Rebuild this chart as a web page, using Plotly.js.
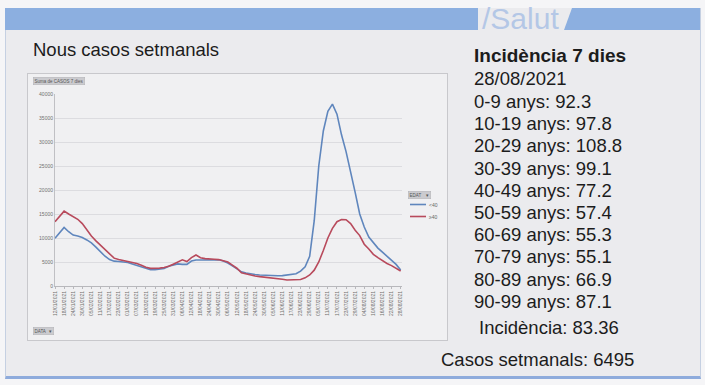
<!DOCTYPE html>
<html>
<head>
<meta charset="utf-8">
<script src="https://cdn.plot.ly/plotly-3.0.1.min.js"></script>
<style>
  html, body { margin:0; padding:0; background:#f5f5f7; width:705px; height:385px; overflow:hidden; }
  body { font-family: "Liberation Sans", Arial, sans-serif; color:#1c1c1c; position:relative; }
  #panel { position:absolute; left:5px; top:8px; width:694px; height:368px; background:#ebebee;
           border-left:1px solid #c5d0e2; border-right:1px solid #c5d0e2; border-bottom:3px solid #8eabdc; }
  #hdr { position:absolute; left:0; top:0; }
  .t { position:absolute; white-space:nowrap; font-size:18.5px; line-height:22px; }
  #chartbox { position:absolute; left:27px; top:73px; width:419px; height:266px; border:1px solid #c8c8cc; background:#f0f0f2; }
  #chart { width:419px; height:266px; }
</style>
</head>
<body>
<div id="panel"></div>
<svg id="hdr" width="705" height="40">
  <polygon points="5,8 478,8 478,30 5,30" fill="#8cafe0"/>
  <polygon points="572,8 700,8 700,30 564,30" fill="#8cafe0"/>
  <text x="482" y="29" font-family="Liberation Sans, Arial, sans-serif" font-size="30" fill="#b4c7e6">/Salut</text>
</svg>
<div class="t" style="left:33px;top:39px;">Nous casos setmanals</div>
<div id="chartbox"><div id="chart"></div></div>
<div id="side"></div>
<script>
// ---- Data (7-day sums of new cases) ----
const dates = [
 "12/01/2021","15/01/2021","18/01/2021","21/01/2021","24/01/2021","27/01/2021","30/01/2021",
 "02/02/2021","05/02/2021","08/02/2021","11/02/2021","14/02/2021","17/02/2021","20/02/2021","23/02/2021","26/02/2021",
 "01/03/2021","04/03/2021","07/03/2021","10/03/2021","13/03/2021","16/03/2021","19/03/2021","22/03/2021","25/03/2021","28/03/2021","31/03/2021",
 "03/04/2021","06/04/2021","09/04/2021","12/04/2021","15/04/2021","18/04/2021","21/04/2021","24/04/2021","27/04/2021","30/04/2021",
 "03/05/2021","06/05/2021","09/05/2021","12/05/2021","15/05/2021","18/05/2021","21/05/2021","24/05/2021","27/05/2021","30/05/2021",
 "02/06/2021","05/06/2021","08/06/2021","11/06/2021","14/06/2021","17/06/2021","20/06/2021","23/06/2021","26/06/2021","29/06/2021",
 "02/07/2021","05/07/2021","08/07/2021","11/07/2021","14/07/2021","17/07/2021","20/07/2021","23/07/2021","26/07/2021","29/07/2021",
 "01/08/2021","04/08/2021","07/08/2021","10/08/2021","13/08/2021","16/08/2021","19/08/2021","22/08/2021","25/08/2021","28/08/2021"
];
const seriesNames = ["<40", "≥40"];
const casesYoung = [
 9930,11000,12200,11300,10600,10400,10100,
 9600,9000,8100,7100,6200,5500,5180,5100,5000,
 4900,4600,4300,3900,3550,3380,3380,3450,3650,4100,4380,
 4600,4500,4500,5200,5420,5420,5420,5500,5560,5450,
 5200,4800,4200,3500,2950,2700,2500,2400,2300,2230,
 2170,2150,2150,2170,2250,2320,2550,3100,4000,6200,
 13600,25000,32300,36400,37900,35800,31500,28000,24000,19500,
 15000,12300,10200,9000,7900,7050,6200,5450,4500,3330
];
const casesOld = [
 13400,14500,15600,15000,14500,13900,13000,
 11700,10400,9400,8500,7500,6600,5800,5500,5300,
 5150,4950,4700,4300,3900,3680,3680,3720,3850,4100,4550,
 5000,5450,5100,5900,6450,5900,5700,5580,5560,5500,
 5300,5000,4350,3700,2750,2500,2290,2100,1960,1880,
 1770,1650,1530,1400,1260,1250,1250,1350,1700,2300,
 3300,5000,7400,10000,12000,13400,13850,13800,13000,11600,
 10500,8700,7700,6600,5900,5250,4700,4250,3700,3120
];
const yTicks = [0,5000,10000,15000,20000,25000,30000,35000,40000];
const incidDate = "28/08/2021";
const ageGroups = ["0-9","10-19","20-29","30-39","40-49","50-59","60-69","70-79","80-89","90-99"];
const ageIncidence = ["92.3","97.8","108.8","99.1","77.2","57.4","55.3","55.1","66.9","87.1"];
const totalIncidence = "83.36";
const weeklyCases = "6495";

// ---- side text ----
const side = document.getElementById('side');
function addText(txt, left, center, extra) {
  const d = document.createElement('div');
  d.className = 't';
  d.style.left = left + 'px';
  d.style.top = (center - 11) + 'px';
  if (extra) Object.assign(d.style, extra);
  d.textContent = txt;
  side.appendChild(d);
}
addText("Incidència 7 dies", 474, 56, {fontWeight:'bold', fontSize:'19px'});
addText(incidDate, 474, 79);
ageGroups.forEach((g, i) => addText(g + " anys: " + ageIncidence[i], 474, 102 + i * 22.2));
addText("Incidència: " + totalIncidence, 479, 328);
addText("Casos setmanals: " + weeklyCases, 441, 360);

// ---- chart ----
const tickDates = dates.filter((d, i) => i % 2 === 0);
const blue = '#5f86bd', red = '#b84a5c';
const traces = [
  {x: dates, y: casesYoung, type:'scatter', mode:'lines', name: seriesNames[0], line:{color:blue, width:1.6}},
  {x: dates, y: casesOld, type:'scatter', mode:'lines', name: seriesNames[1], line:{color:red, width:1.6}}
];
function px(X){ return (X - 55) / 347; }
function py(Y){ return (286 - Y) / 192; }
const btnFont = {family:'Liberation Sans, Arial', size:4.5, color:'#555'};
const layout = {
  width: 419, height: 266,
  margin: {l:27, r:45, t:20, b:54},
  paper_bgcolor: '#f0f0f2', plot_bgcolor: '#f0f0f2',
  showlegend: false,
  font: {family:'Liberation Sans, Arial, sans-serif', color:'#666'},
  xaxis: {type:'category', range:[0, dates.length - 1 + 0.3], tickvals: tickDates, ticktext: tickDates,
          tickangle: -90, tickfont:{size:5, color:'#707070'}, showgrid:false,
          showline:true, linecolor:'#b8b8bc', linewidth:1, ticks:'outside', ticklen:2, tickcolor:'#b8b8bc', zeroline:false},
  yaxis: {range:[0, 40000], tickvals: yTicks, ticktext: yTicks.map(String), tickfont:{size:5, color:'#707070'},
          showgrid:true, gridcolor:'#dcdce0', gridwidth:1, showline:true, linecolor:'#c0c0c4', linewidth:1, zeroline:false},
  shapes: [
    {type:'line', xref:'paper', yref:'paper', x0:px(410), x1:px(426), y0:py(204.5), y1:py(204.5), line:{color:blue, width:1.6}},
    {type:'line', xref:'paper', yref:'paper', x0:px(410), x1:px(426), y0:py(216.5), y1:py(216.5), line:{color:red, width:1.6}}
  ],
  annotations: [
    {xref:'paper', yref:'paper', x:px(33), y:py(80.5), xanchor:'left', yanchor:'middle', showarrow:false,
     text:'Suma de CASOS 7 dies', font:btnFont, bgcolor:'#cbcbcf', bordercolor:'#b0b0b4', borderwidth:0.5, borderpad:1},
    {xref:'paper', yref:'paper', x:px(408), y:py(194.5), xanchor:'left', yanchor:'middle', showarrow:false,
     text:'EDAT &nbsp;&nbsp;&nbsp;▾', font:btnFont, bgcolor:'#cbcbcf', bordercolor:'#b0b0b4', borderwidth:0.5, borderpad:1},
    {xref:'paper', yref:'paper', x:px(33), y:py(330.5), xanchor:'left', yanchor:'middle', showarrow:false,
     text:'DATA &nbsp;&nbsp;▾', font:btnFont, bgcolor:'#cbcbcf', bordercolor:'#b0b0b4', borderwidth:0.5, borderpad:1},
    {xref:'paper', yref:'paper', x:px(427), y:py(204.5), xanchor:'left', yanchor:'middle', showarrow:false,
     text: seriesNames[0], font:{size:5, color:'#666'}},
    {xref:'paper', yref:'paper', x:px(427), y:py(216.5), xanchor:'left', yanchor:'middle', showarrow:false,
     text: seriesNames[1], font:{size:5, color:'#666'}}
  ]
};
Plotly.newPlot('chart', traces, layout, {staticPlot:true, displayModeBar:false});
</script>
</body>
</html>
